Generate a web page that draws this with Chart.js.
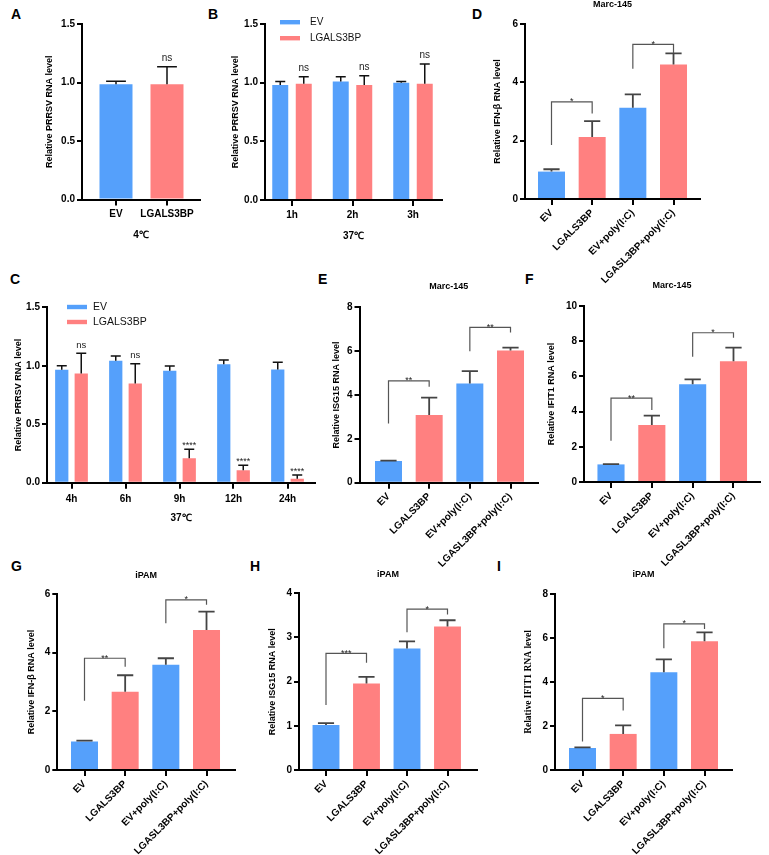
<!DOCTYPE html>
<html>
<head>
<meta charset="utf-8">
<script src="https://cdn.jsdelivr.net/npm/chart.js@4.4.1/dist/chart.umd.min.js"></script>
<style>
  body { margin: 0; background: #fff; }
  #fig { position: relative; width: 769px; height: 855px; overflow: hidden; font-family: 'Liberation Sans', Arial, sans-serif; }
  #fig canvas { position: absolute; }
  .tag { position: absolute; font-weight: bold; font-size: 14px; line-height: 14px; color: #000; }
</style>
</head>
<body>
<div id="fig">
  <div class="tag" style="left:11px;top:7px">A</div>
  <div class="tag" style="left:208px;top:7px">B</div>
  <div class="tag" style="left:472px;top:7px">D</div>
  <div class="tag" style="left:10px;top:272px">C</div>
  <div class="tag" style="left:318px;top:272px">E</div>
  <div class="tag" style="left:525px;top:272px">F</div>
  <div class="tag" style="left:11px;top:559px">G</div>
  <div class="tag" style="left:250px;top:559px">H</div>
  <div class="tag" style="left:497px;top:559px">I</div>
</div>
<script>
const BLUE = '#55a0fb';
const RED = '#ff8080';
const SANS = "'Liberation Sans', Arial, sans-serif";

// tick labels
const aLabels = ['EV', 'LGALS3BP'];
const bLabels = ['1h', '2h', '3h'];
const cLabels = ['4h', '6h', '9h', '12h', '24h'];
const treatLabels = ['EV', 'LGALS3BP', 'EV+poly(I:C)', 'LGASL3BP+poly(I:C)'];

// A: 4℃
const aMean = [0.985, 0.985];
const aSem = [0.025, 0.15];
const aSig = ['', 'ns'];

// B: 37℃, 1-3h
const bEvMean = [0.98, 1.01, 1.0];
const bEvSem = [0.03, 0.04, 0.01];
const bLgMean = [0.99, 0.98, 0.99];
const bLgSem = [0.06, 0.08, 0.17];
const bSig = ['ns', 'ns', 'ns'];

// C: 37℃, 4-24h
const cEvMean = [0.966, 1.043, 0.957, 1.014, 0.969];
const cEvSem = [0.034, 0.04, 0.04, 0.035, 0.062];
const cLgMean = [0.934, 0.849, 0.209, 0.106, 0.034];
const cLgSem = [0.172, 0.168, 0.077, 0.043, 0.032];
const cSig = ['ns', 'ns', '****', '****', '****'];

// D-I: bars + brackets [from, to, leftY, topY, rightY, mark]
const dMean = [0.94, 2.13, 3.13, 4.61];
const dSem = [0.08, 0.54, 0.46, 0.38];
const dBrackets = [[0, 1, 1.85, 3.33, 2.93, '*'], [2, 3, 4.47, 5.3, 5.01, '*']];

const eMean = [0.99, 3.09, 4.53, 6.03];
const eSem = [0.02, 0.79, 0.56, 0.13];
const eBrackets = [[0, 1, 2.7, 4.64, 4.38, '**'], [2, 3, 6.0, 7.08, 6.85, '**']];

const fMean = [1.0, 3.24, 5.55, 6.86];
const fSem = [0.02, 0.53, 0.28, 0.77];
const fBrackets = [[0, 1, 2.35, 4.77, 4.09, '**'], [2, 3, 7.12, 8.48, 8.2, '*']];

const gMean = [0.97, 2.67, 3.59, 4.77];
const gSem = [0.03, 0.56, 0.22, 0.63];
const gBrackets = [[0, 1, 2.36, 3.81, 3.52, '**'], [2, 3, 5.0, 5.8, 5.63, '*']];

const hMean = [1.02, 1.96, 2.75, 3.25];
const hSem = [0.04, 0.15, 0.16, 0.14];
const hBrackets = [[0, 1, 1.47, 2.64, 2.43, '***'], [2, 3, 3.12, 3.64, 3.52, '*']];

const iMean = [1.0, 1.64, 4.44, 5.85];
const iSem = [0.03, 0.39, 0.59, 0.41];
const iBrackets = [[0, 1, 1.29, 3.26, 2.7, '*'], [2, 3, 5.53, 6.64, 6.41, '*']];

const treatColors = [BLUE, RED, BLUE, RED];

function makePanel(p) {
    const [L, T, W, H] = p.box;
    const cv = document.createElement('canvas');
    cv.width = W;
    cv.height = H;
    cv.style.left = L + 'px';
    cv.style.top = T + 'px';
    document.getElementById('fig').appendChild(cv);

    const axisFont = { family: SANS, size: 10, weight: 'bold' };
    const yFont = p.yFont || { family: SANS, size: 9, weight: 'bold' };

    // error bars, significance marks, brackets, title, legend
    const extras = {
        id: 'extras',
        afterDatasetsDraw(chart) {
            const { ctx, chartArea, scales: { x, y } } = chart;
            ctx.save();
            chart.data.datasets.forEach((ds, di) => {
                chart.getDatasetMeta(di).data.forEach((bar, i) => {
                    const top = y.getPixelForValue(ds.data[i].y + ds.sem[i]);
                    const half = Math.max(5, bar.width * 0.3);
                    ctx.strokeStyle = p.errColor;
                    ctx.lineWidth = p.errWidth;
                    ctx.beginPath();
                    ctx.moveTo(bar.x, bar.y);
                    ctx.lineTo(bar.x, top);
                    ctx.moveTo(bar.x - half, top);
                    ctx.lineTo(bar.x + half, top);
                    ctx.stroke();
                    const s = ds.sig && ds.sig[i];
                    if (s) {
                        ctx.fillStyle = '#222';
                        ctx.textAlign = 'center';
                        ctx.textBaseline = 'alphabetic';
                        if (s === 'ns') {
                            ctx.font = p.nsSize + 'px ' + SANS;
                            ctx.fillText(s, bar.x, top - 5.5);
                        } else {
                            ctx.font = '9px ' + SANS;
                            ctx.fillText(s, bar.x, top - 1);
                        }
                    }
                });
            });

            (p.brackets || []).forEach(([a, b, yl, yt, yr, mark]) => {
                const xa = x.getPixelForValue(a);
                const xb = x.getPixelForValue(b);
                const top = y.getPixelForValue(yt);
                ctx.strokeStyle = '#555';
                ctx.lineWidth = 1.2;
                ctx.beginPath();
                ctx.moveTo(xa, y.getPixelForValue(yl));
                ctx.lineTo(xa, top);
                ctx.lineTo(xb, top);
                ctx.lineTo(xb, y.getPixelForValue(yr));
                ctx.stroke();
                ctx.fillStyle = '#222';
                ctx.font = '9px ' + SANS;
                ctx.textAlign = 'center';
                ctx.textBaseline = 'alphabetic';
                ctx.fillText(mark, (xa + xb) / 2, top + 2.5);
            });

            if (p.title) {
                ctx.fillStyle = '#000';
                ctx.font = 'bold 9px ' + SANS;
                ctx.textAlign = 'center';
                ctx.textBaseline = 'middle';
                ctx.fillText(p.title, (chartArea.left + chartArea.right) / 2, p.titleY - T);
            }

            if (p.legend) {
                const lg = p.legend;
                chart.data.datasets.forEach((ds, di) => {
                    const cy = lg.y[di] - T;
                    ctx.fillStyle = ds.backgroundColor;
                    ctx.fillRect(lg.x0 - L, cy - 2.2, lg.x1 - lg.x0, 4.4);
                    ctx.fillStyle = '#111';
                    ctx.font = lg.size + 'px ' + SANS;
                    ctx.textAlign = 'left';
                    ctx.textBaseline = 'middle';
                    ctx.fillText(ds.label, lg.tx - L, cy);
                });
            }
            ctx.restore();
        }
    };

    return new Chart(cv, {
        type: 'bar',
        data: {
            datasets: p.series.map(s => ({
                label: s.label,
                data: s.mean.map((v, i) => ({ x: i, y: v })),
                sem: s.sem,
                sig: s.sig,
                backgroundColor: s.color,
                borderWidth: 0,
                categoryPercentage: p.catPct,
                barPercentage: p.barPct
            }))
        },
        options: {
            responsive: false,
            animation: false,
            devicePixelRatio: 1,
            layout: { padding: { left: 0, bottom: 0, top: p.plot.t - T, right: L + W - p.plot.r } },
            scales: {
                x: {
                    type: 'linear',
                    min: (p.plot.l - p.cat0) / p.step,
                    max: (p.plot.r - p.cat0) / p.step,
                    offset: false,
                    afterFit: s => { s.height = T + H - p.plot.b; },
                    grid: { drawOnChartArea: false, offset: false, tickLength: 6, lineWidth: 2, color: '#000' },
                    border: { color: '#000', width: 2 },
                    ticks: {
                        stepSize: 1, includeBounds: false, autoSkip: false,
                        color: '#000', font: axisFont, padding: p.tickPad,
                        minRotation: p.rot, maxRotation: p.rot,
                        callback: v => p.labels[v] ?? ''
                    },
                    title: p.xTitle
                        ? { display: true, text: p.xTitle, color: '#000', font: axisFont, padding: { top: 0, bottom: T + H - p.xTitleY - 6 } }
                        : { display: false }
                },
                y: {
                    min: 0,
                    max: p.yMax,
                    afterFit: s => { s.width = p.plot.l - L; },
                    grid: { drawOnChartArea: false, tickLength: 5, lineWidth: 2, color: '#000' },
                    border: { color: '#000', width: 2 },
                    ticks: { stepSize: p.yStep, color: '#000', font: axisFont, padding: 2, callback: v => v.toFixed(p.yDec) },
                    title: {
                        display: true, text: p.yTitle, color: '#000', font: yFont,
                        padding: { top: p.yTitleX - L - yFont.size * 0.6, bottom: 0 }
                    }
                }
            },
            plugins: { legend: { display: false }, tooltip: { enabled: false } }
        },
        plugins: [extras]
    });
}

const prrsv = 'Relative PRRSV RNA level';

makePanel({
    box: [0, 0, 250, 250], plot: { l: 82, r: 200, t: 24, b: 199.5 }, cat0: 116, step: 51,
    labels: aLabels, catPct: 1, barPct: 0.647, rot: 0, tickPad: 3,
    series: [{ label: 'A', mean: aMean, sem: aSem, sig: aSig, color: [BLUE, RED] }],
    yMax: 1.5, yStep: 0.5, yDec: 1, yTitle: prrsv, yTitleX: 50,
    xTitle: '4℃', xTitleY: 235, errColor: '#111', errWidth: 1.5, nsSize: 10
});

makePanel({
    box: [220, 0, 280, 250], plot: { l: 265, r: 442, t: 24, b: 200 }, cat0: 292, step: 60.5,
    labels: bLabels, catPct: 0.777, barPct: 0.68, rot: 0, tickPad: 3,
    series: [
        { label: 'EV', mean: bEvMean, sem: bEvSem, color: BLUE },
        { label: 'LGALS3BP', mean: bLgMean, sem: bLgSem, sig: bSig, color: RED }
    ],
    yMax: 1.5, yStep: 0.5, yDec: 1, yTitle: prrsv, yTitleX: 235.5,
    xTitle: '37℃', xTitleY: 236.5, errColor: '#111', errWidth: 1.5, nsSize: 10,
    legend: { x0: 280, x1: 300, tx: 310, y: [22.2, 38.2], size: 10 }
});

makePanel({
    box: [0, 290, 335, 240], plot: { l: 47, r: 315, t: 307.3, b: 482.7 }, cat0: 71.5, step: 54,
    labels: cLabels, catPct: 0.722, barPct: 0.68, rot: 0, tickPad: 5,
    series: [
        { label: 'EV', mean: cEvMean, sem: cEvSem, color: BLUE },
        { label: 'LGALS3BP', mean: cLgMean, sem: cLgSem, sig: cSig, color: RED }
    ],
    yMax: 1.5, yStep: 0.5, yDec: 1, yTitle: prrsv, yTitleX: 18.5,
    xTitle: '37℃', xTitleY: 518, errColor: '#111', errWidth: 1.5, nsSize: 9.5,
    legend: { x0: 67, x1: 87, tx: 93, y: [307, 322], size: 10.5 }
});

function treatPanel(box, plot, cat0, step, mean, sem, brackets, yMax, yStep, yTitle, yTitleX, title, titleY, yFont) {
    makePanel({
        box, plot, cat0, step, labels: treatLabels, catPct: 1, barPct: 0.664, rot: 45, tickPad: 2,
        series: [{ label: yTitle, mean, sem, color: treatColors }],
        brackets, yMax, yStep, yDec: 0, yTitle, yTitleX, yFont,
        title, titleY, errColor: '#444', errWidth: 1.8, nsSize: 10
    });
}

treatPanel([470, 0, 299, 300], { l: 525, r: 700, t: 24, b: 199 }, 551.5, 40.67,
    dMean, dSem, dBrackets, 6, 2, 'Relative IFN-β RNA level', 498, 'Marc-145', 4.7);
treatPanel([322, 275, 228, 305], { l: 359.5, r: 538, t: 307.3, b: 482.7 }, 388.5, 40.67,
    eMean, eSem, eBrackets, 8, 2, 'Relative ISG15 RNA level', 336.7, 'Marc-145', 286.7);
treatPanel([540, 275, 229, 305], { l: 584, r: 760, t: 306, b: 482 }, 611, 40.83,
    fMean, fSem, fBrackets, 10, 2, 'Relative IFIT1 RNA level', 551.7, 'Marc-145', 286);
treatPanel([5, 565, 245, 290], { l: 57.3, r: 235, t: 594, b: 770 }, 84.5, 40.67,
    gMean, gSem, gBrackets, 6, 2, 'Relative IFN-β RNA level', 32, 'iPAM', 575.5);
treatPanel([255, 565, 240, 290], { l: 299, r: 477, t: 593.3, b: 770 }, 326, 40.5,
    hMean, hSem, hBrackets, 4, 1, 'Relative ISG15 RNA level', 273, 'iPAM', 575);
treatPanel([505, 565, 264, 290], { l: 555, r: 732, t: 594, b: 770 }, 582.5, 40.67,
    iMean, iSem, iBrackets, 8, 2, 'Relative IFIT1 RNA level', 529, 'iPAM', 575,
    { family: "'Liberation Serif', 'Times New Roman', serif", size: 9.5, weight: 'bold' });
</script>
</body>
</html>
